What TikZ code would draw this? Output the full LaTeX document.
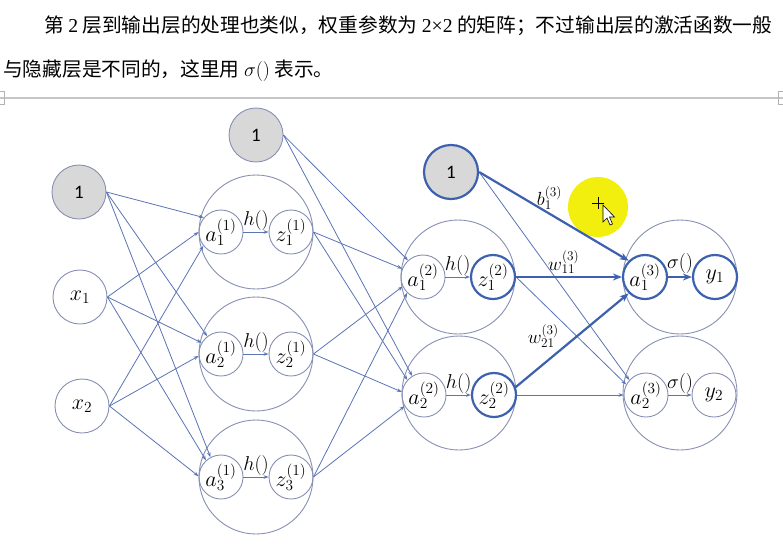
\RequirePackage{fix-cm}
\documentclass[tikz,border=0pt]{standalone}
\usepackage{fontspec}
\newfontfamily\cjkfont{Noto Sans CJK SC}
\newfontfamily\tnrfont{Liberation Serif}
\newfontfamily\carfont{Carlito}
\usetikzlibrary{arrows.meta,calc}
\definecolor{ln}{HTML}{5A74B4}
\definecolor{cir}{HTML}{8790B4}
\definecolor{thk}{HTML}{3D61AE}
\definecolor{biasfill}{HTML}{D8D8D8}
\definecolor{hl}{HTML}{F2EE00}
\begin{document}
\begin{tikzpicture}[x=1pt,y=-1pt,
  big/.style={circle, draw=cir, line width=0.9pt, minimum size=114pt, inner sep=0pt},
  unit/.style={circle, draw=cir, line width=0.9pt, minimum size=44pt, inner sep=0pt, font=\fontsize{22}{24}\selectfont},
  thkunit/.style={unit, draw=thk, line width=2.2pt},
  inp/.style={circle, draw=cir, line width=0.9pt, minimum size=54pt, inner sep=0pt, font=\fontsize{22}{24}\selectfont},
  biasnode/.style={inp, fill=biasfill, font=\carfont\fontsize{19}{22}\selectfont},
  con/.style={draw=ln, line width=0.8pt, -{Stealth[length=5pt,width=3.6pt]}},
  tcon/.style={draw=thk, line width=2.2pt, -{Stealth[length=9pt,width=7pt]}},
  inner/.style={draw=ln, line width=0.9pt, -{Stealth[length=5pt,width=3.6pt]}},
  lab/.style={font=\fontsize{20}{22}\selectfont, inner sep=1pt},
  elab/.style={font=\fontsize{19}{21}\selectfont, inner sep=1pt}]
\fill[white] (0,0) rectangle (783,555);
\useasboundingbox (0,0) rectangle (783,555);

% header text
\node[anchor=west, inner sep=0pt, font=\cjkfont\fontsize{19.7}{22}\selectfont] (t1) at (44,26)
  {第 {\tnrfont 2} 层到输出层的处理也类似，权重参数为 {\tnrfont 2×2} 的矩阵；不过输出层的激活函数一般};
\node[anchor=west, inner sep=0pt, font=\cjkfont\fontsize{19.7}{22}\selectfont] (t2) at (3,71)
  {与隐藏层是不同的，这里用 {\fontsize{20}{22}\selectfont$\sigma()$} 表示。};
\draw[gray!45, line width=1.2pt] (0,98) -- (783,98);
\draw[gray!60, line width=0.6pt] (0,91) -- (4,91) -- (4,104) -- (0,104);
\draw[gray!60, line width=0.6pt] (783,91) -- (778,91) -- (778,104) -- (783,104);

% cursor highlight
\fill[hl, opacity=0.95] (598,207) circle (30);

% input layer
\node[biasnode] (b0) at (79,192) {1};
\node[inp] (x1) at (80,297) {$x_1$};
\node[inp] (x2) at (82,406) {$x_2$};

% layer 1
\node[biasnode] (b1) at (256,135) {1};
\foreach \i/\y in {1/232,2/354,3/477}{
  \node[big] (c1\i) at (256,\y) {};
  \node[unit] (a1\i) at (221,\y) {$a_{\i}^{(1)}$};
  \node[unit] (z1\i) at (291,\y) {$z_{\i}^{(1)}$};
  \draw[inner] (a1\i) -- node[lab, above=0pt] {$h()$} (z1\i);
}

% layer 2
\node[biasnode, draw=thk, line width=2.2pt] (b2) at (451,172) {1};
\node[big] (c21) at (458,277) {};
\node[unit] (a21) at (423,277) {$a_{1}^{(2)}$};
\node[thkunit] (z21) at (493,277) {$z_{1}^{(2)}$};
\draw[inner] (a21) -- node[lab, above=0pt] {$h()$} (z21);
\node[big] (c22) at (459,393) {};
\node[unit] (a22) at (424,395) {$a_{2}^{(2)}$};
\node[thkunit] (z22) at (494,395) {$z_{2}^{(2)}$};
\draw[inner] (a22) -- node[lab, above=0pt] {$h()$} (z22);

% output layer
\node[big] (c31) at (680,277) {};
\node[thkunit] (a31) at (645,277) {$a_{1}^{(3)}$};
\node[thkunit] (y1) at (715,277) {$y_1$};
\draw[tcon] (a31) -- node[lab, above=1pt] {$\sigma()$} (y1);
\node[big] (c32) at (680,393) {};
\node[unit] (a32) at (646,395) {$a_{2}^{(3)}$};
\node[unit] (y2) at (714,395) {$y_2$};
\draw[inner] (a32) -- node[lab, above=0pt] {$\sigma()$} (y2);

% input -> layer 1
\draw[con] (b0.east) -- (a11.140);
\draw[con] (b0.east) -- (a12.128);
\draw[con] (b0.east) -- (a13.118);
\draw[con] (x1.east) -- (a11.180);
\draw[con] (x1.east) -- (a12.150);
\draw[con] (x1.east) -- (a13.132);
\draw[con] (x2.east) -- (a11.218);
\draw[con] (x2.east) -- (a12.185);
\draw[con] (x2.east) -- (a13.178);

% layer 1 -> layer 2
\draw[con] (b1.east) -- (a21.132);
\draw[con] (b1.east) -- (a22.122);
\draw[con] (z11.east) -- (a21.158);
\draw[con] (z11.east) -- (a22.138);
\draw[con] (z12.east) -- (a21.205);
\draw[con] (z12.east) -- (a22.172);
\draw[con] (z13.east) -- (a21.225);
\draw[con] (z13.east) -- (a22.210);

% layer 2 -> output
\draw[con] (b2.east) -- (a32.138);
\draw[con] (z21.east) -- (a32.152);
\draw[con] (z22.east) -- (a32.180);
\draw[tcon] (b2.east) -- node[elab, pos=0.47, above=2pt] {$b_1^{(3)}$} (a31.135);
\draw[tcon] (z21.east) -- node[elab, pos=0.45, above=1pt] {$w_{11}^{(3)}$} (a31.west);
\draw[tcon] (z22.20) -- node[elab, pos=0.4, anchor=south east] {$w_{21}^{(3)}$} (a31.225);

% cursor
\draw[black, line width=0.6pt, fill=white] (603,205) -- (603,222) -- (607,218) -- (610,225) -- (612.5,224) -- (609.5,217) -- (614.5,217) -- cycle;
\draw[black, line width=0.7pt] (592,203) -- (604,203) (598,197) -- (598,209);
\end{tikzpicture}
\end{document}
